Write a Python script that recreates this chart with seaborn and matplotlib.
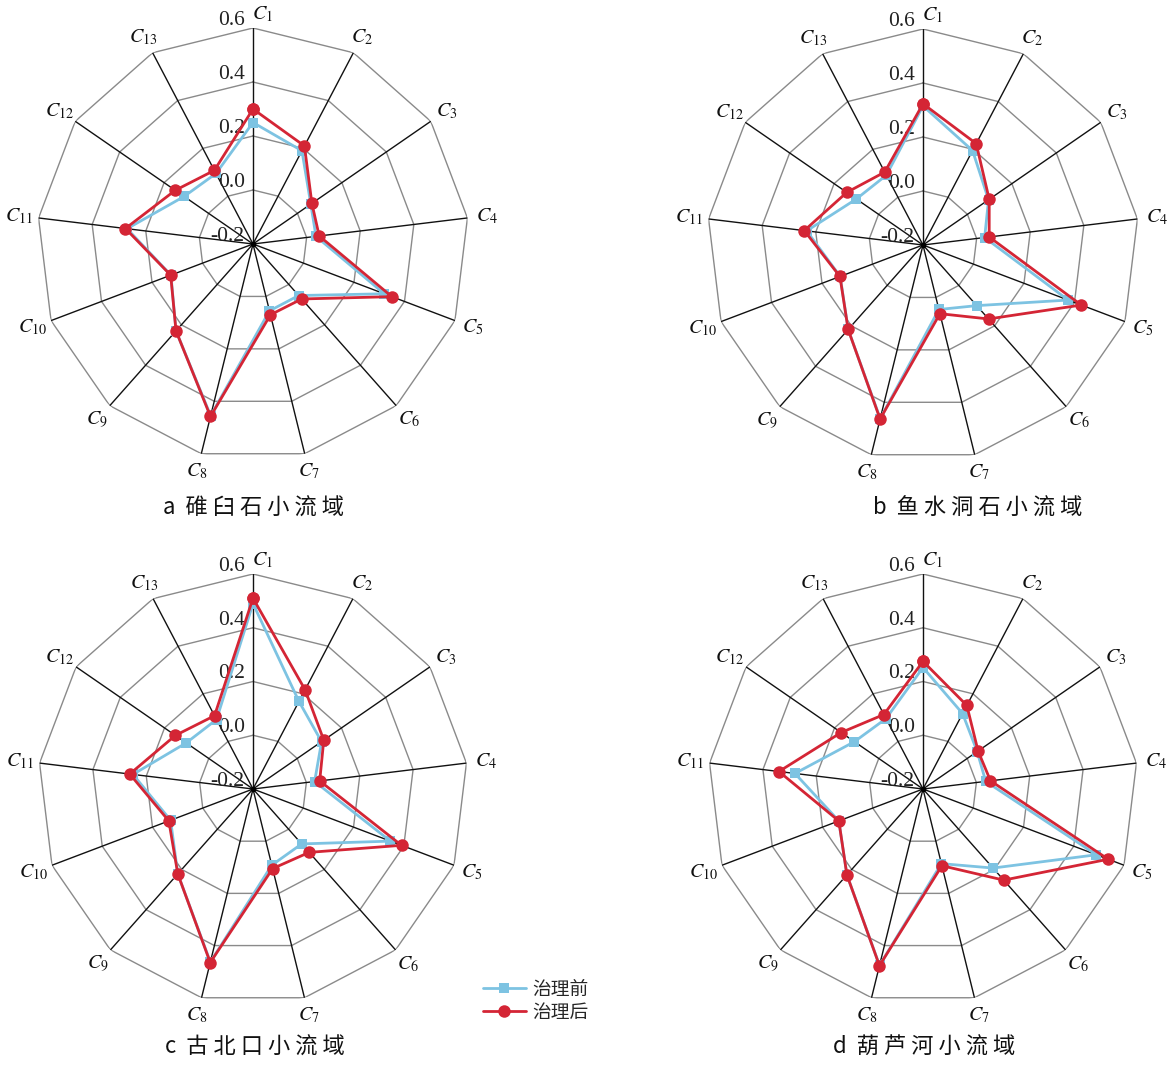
import numpy as np
import matplotlib
matplotlib.use("Agg")
import matplotlib.pyplot as plt
import seaborn as sns

sns.set_style("white")
plt.rcParams['font.family'] = ['Noto Sans CJK SC', 'DejaVu Sans']
plt.rcParams['mathtext.fontset'] = 'stix'

# indicator names and ring ticks
criteria = [f"C{i}" for i in range(1, 14)]
ring_ticks = [-0.2, 0.0, 0.2, 0.4, 0.6]
ring_labels = ["-0.2", "0.0", "0.2", "0.4", "0.6"]
series_names = ["治理前", "治理后"]

# values, C1..C13
before_a = [0.25, 0.19, 0.06, 0.035, 0.32, 0.055, 0.055, 0.455, 0.23, 0.125, 0.27, 0.11, 0.095]
after_a = [0.30, 0.21, 0.065, 0.047, 0.35, 0.072, 0.07, 0.458, 0.23, 0.126, 0.276, 0.15, 0.108]
before_b = [0.315, 0.195, 0.095, 0.03, 0.375, 0.10, 0.046, 0.462, 0.218, 0.128, 0.234, 0.10, 0.092]
after_b = [0.323, 0.224, 0.098, 0.047, 0.427, 0.166, 0.062, 0.464, 0.218, 0.129, 0.243, 0.143, 0.105]
before_c = [0.49, 0.168, 0.11, 0.031, 0.347, 0.073, 0.092, 0.463, 0.222, 0.128, 0.25, 0.102, 0.092]
after_c = [0.51, 0.217, 0.12, 0.05, 0.391, 0.115, 0.105, 0.465, 0.222, 0.135, 0.262, 0.151, 0.108]
before_d = [0.252, 0.117, 0.045, 0.035, 0.49, 0.193, 0.086, 0.476, 0.227, 0.135, 0.28, 0.11, 0.096]
after_d = [0.275, 0.151, 0.049, 0.053, 0.537, 0.253, 0.094, 0.477, 0.227, 0.135, 0.34, 0.17, 0.113]

panel_titles = ["a  碓 臼 石 小 流 域", "b  鱼 水 洞 石 小 流 域",
                "c  古 北 口 小 流 域", "d  葫 芦 河 小 流 域"]
panel_data = [(before_a, after_a), (before_b, after_b),
              (before_c, after_c), (before_d, after_d)]

blue = '#7DC3E2'
red = '#D42535'

W, H = 1176, 1072
fig = plt.figure(figsize=(W / 100, H / 100), dpi=100)

# (center x, center y, radius) in pixels, title left x, title y
layout = [(253, 244, 216, 163, 508), (923, 245, 216, 873, 508),
          (253, 789, 215, 165, 1047), (923, 789, 215, 833, 1047)]

n = len(criteria)
theta = np.linspace(0, 2 * np.pi, n, endpoint=False)
theta_closed = np.append(theta, 2 * np.pi)

axes = []
for (cx, cy, R, tx, ty), (before, after), title in zip(layout, panel_data, panel_titles):
    ax = fig.add_axes([(cx - R) / W, (H - cy - R) / H, 2 * R / W, 2 * R / H],
                      projection='polar')
    ax.set_theta_zero_location('N')
    ax.set_theta_direction(-1)
    ax.set_ylim(-0.2, 0.6)
    ax.grid(False)
    ax.set_xticks([])
    ax.set_yticks([])
    ax.spines['polar'].set_visible(False)
    ax.patch.set_alpha(0)

    # polygon rings and spokes
    for r in ring_ticks[1:]:
        ax.plot(theta_closed, [r] * (n + 1), color='#8a8a8a', lw=1.0, zorder=1)
    for t in theta:
        ax.plot([t, t], [-0.2, 0.6], color='#111111', lw=1.0, zorder=1)
    ax.plot([0], [-0.2], 'o', color='black', ms=3, zorder=2)

    # ring labels
    for r, lab in zip(ring_ticks, ring_labels):
        ax.annotate(lab, xy=(0, r), xytext=(-6, 5.5), textcoords='offset points',
                    ha='right', va='center', fontsize=15.5, color='#222222',
                    family='Liberation Serif', zorder=3)

    # indicator labels
    for i, (t, c) in enumerate(zip(theta, criteria)):
        dx = 14 * np.sin(t)
        dy = 13 * np.cos(t)
        if i == 0:
            dx += 7
            dy -= 3
        ax.annotate(f"$C_{{{i + 1}}}$", xy=(t, 0.6), xytext=(dx, dy),
                    textcoords='offset points', ha='center', va='center',
                    fontsize=14.5, color='#111111', annotation_clip=False)

    sns.lineplot(x=theta_closed, y=np.append(before, before[0]), ax=ax,
                 sort=False, estimator=None, color=blue, lw=2, marker='s',
                 markersize=7, markeredgewidth=0, label=series_names[0], zorder=4)
    sns.lineplot(x=theta_closed, y=np.append(after, after[0]), ax=ax,
                 sort=False, estimator=None, color=red, lw=2, marker='o',
                 markersize=9, markeredgewidth=0, label=series_names[1], zorder=5)
    ax.set_xlabel('')
    ax.set_ylabel('')
    ax.get_legend().remove()

    fig.text(tx / W, 1 - ty / H, title, ha='left', va='center', fontsize=16,
             color='#111111')
    axes.append(ax)

handles, labels = axes[0].get_legend_handles_labels()
fig.legend(handles, labels, loc='upper left', bbox_to_anchor=(466 / W, 1 - 962 / H),
           frameon=False, fontsize=13.5, handlelength=2.3, labelspacing=0.1,
           handletextpad=0.35)

fig.savefig('out.png', dpi=100)
